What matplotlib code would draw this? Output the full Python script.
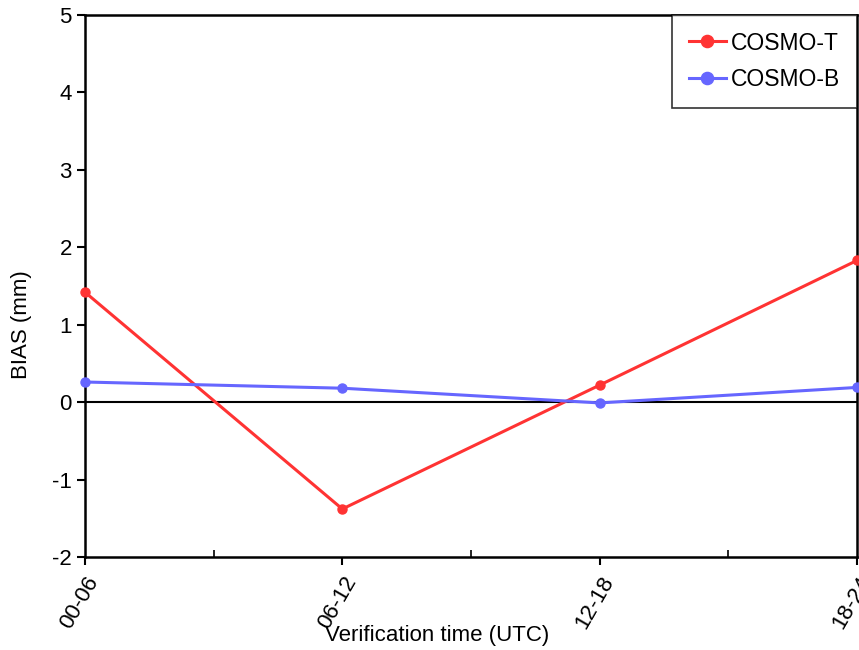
import matplotlib.pyplot as plt
from matplotlib.ticker import FixedLocator

plt.rcParams['font.family'] = ['Liberation Sans', 'DejaVu Sans']
plt.rcParams['axes.unicode_minus'] = False

periods = ['00-06', '06-12', '12-18', '18-24']
cosmo_t = [1.42, -1.38, 0.22, 1.83]
cosmo_b = [0.26, 0.18, -0.01, 0.19]

fig = plt.figure(figsize=(8.59, 6.5), dpi=100)
ax = fig.add_axes([85 / 859, 1 - 557 / 650, 772 / 859, 542 / 650])

x = list(range(len(periods)))

# zero line
ax.axhline(0, color='black', lw=1.5, zorder=1)

ax.plot(x, cosmo_t, color='#ff3333', lw=2.2, marker='o', ms=6.5,
        label='COSMO-T', zorder=3, clip_on=False)
ax.plot(x, cosmo_b, color='#6666ff', lw=2.2, marker='o', ms=6.5,
        label='COSMO-B', zorder=3, clip_on=False)

ax.set_xlim(0, len(periods) - 1)
ax.set_ylim(-2, 5)
ax.set_xticks(x)
ax.set_xticklabels(periods, rotation=60, ha='right', va='top',
                   rotation_mode='anchor')
ax.xaxis.set_minor_locator(FixedLocator([i + 0.5 for i in x[:-1]]))
ax.tick_params(axis='x', which='major', direction='out', length=6,
               width=1.5, labelsize=16, pad=5)
ax.tick_params(axis='x', which='minor', direction='in', length=5,
               width=1.2)
ax.tick_params(axis='y', direction='out', length=6, width=1.5,
               labelsize=16)

for s in ax.spines.values():
    s.set_linewidth(1.8)

ax.set_xlabel('Verification time (UTC)', fontsize=16)
ax.xaxis.set_label_coords(0.456, -0.144)
ax.xaxis.label.set_va('center')
ax.set_ylabel('BIAS (mm)', fontsize=16)
ax.yaxis.set_label_coords(-0.082, 0.428)
ax.yaxis.label.set_va('center')

leg = ax.legend(loc='upper right', fontsize=16.5, frameon=True,
                fancybox=False, borderaxespad=0, markerscale=1.35,
                handlelength=1.6, handletextpad=0.25, borderpad=0.72,
                labelspacing=0.6)
leg.get_frame().set_edgecolor('black')
leg.get_frame().set_linewidth(1.2)

fig.savefig('out.png', dpi=100)
